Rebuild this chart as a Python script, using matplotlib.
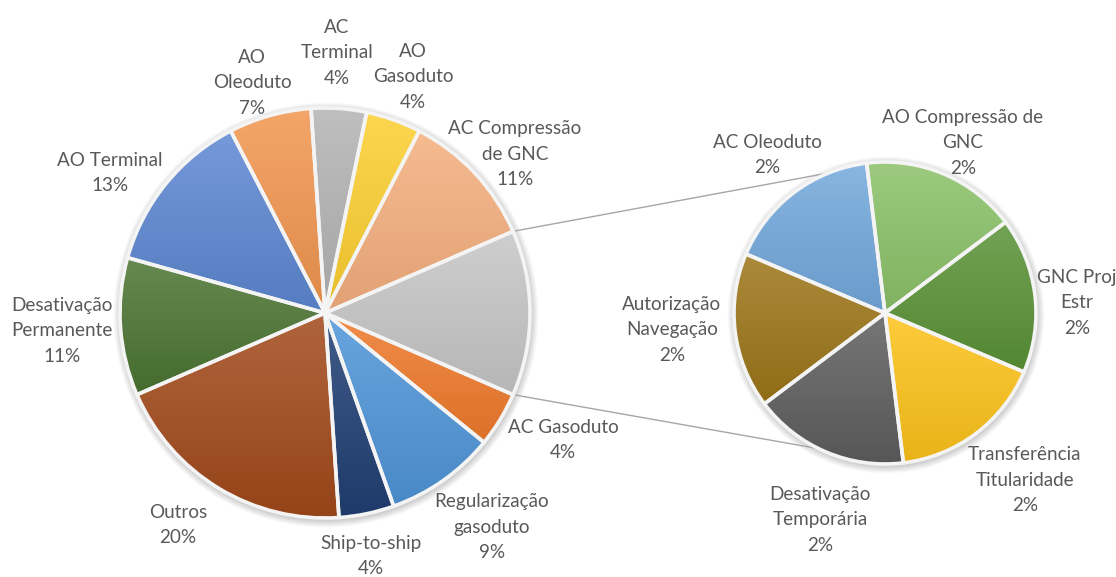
import matplotlib
matplotlib.use("Agg")
import matplotlib.pyplot as plt
import numpy as np
from matplotlib.colors import to_rgb
from matplotlib.patches import Circle

# ---------------- data ----------------
main_categories = ["AC Compressão de GNC", "AO Gasoduto", "AC Terminal", "AO Oleoduto",
                   "AO Terminal", "Desativação Permanente", "Outros", "Ship-to-ship",
                   "Regularização gasoduto", "AC Gasoduto"]
main_values = [5, 2, 2, 3, 6, 5, 9, 2, 4, 2]

sec_categories = ["AC Oleoduto", "AO Compressão de GNC", "GNC Proj Estr",
                  "Transferência Titularidade", "Desativação Temporária", "Autorização Navegação"]
sec_values = [1, 1, 1, 1, 1, 1]

# ---------------- style / layout ----------------
main_label_text = ["AC Compressão\nde GNC", "AO\nGasoduto", "AC\nTerminal", "AO\nOleoduto",
                   "AO Terminal", "Desativação\nPermanente", "Outros", "Ship-to-ship",
                   "Regularização\ngasoduto", "AC Gasoduto"]
sec_label_text = ["AC Oleoduto", "AO Compressão de\nGNC", "GNC Proj\nEstr",
                  "Transferência\nTitularidade", "Desativação\nTemporária", "Autorização\nNavegação"]

main_colors = ["#F5AF7E", "#FCCF30", "#B3B3B3", "#F1964F", "#5D87D2", "#4B7432",
               "#A2491A", "#203F73", "#4F95D8", "#EF7A2C"]
group_color = "#C6C6C6"
sec_colors = ["#73A8DC", "#8AC168", "#5A9236", "#FDC31A", "#5E5E5E", "#9C7518"]

W, H = 1116, 577
main_center = (325, H - 313)
main_r = 205
sec_center = (885, H - 313)
sec_r = 151

# label centres (image pixel coordinates, y down)
main_label_pos = [(515, 154), (413, 77), (337, 53), (252, 83), (110, 173), (62, 331),
                  (178, 525), (371, 556), (492, 527), (563, 440)]
sec_label_pos = [(767, 155), (963, 143), (1077, 303), (1025, 480), (820, 520), (672, 330)]

TEXT_COLOR = "#595959"
FONT = ["Lato", "DejaVu Sans"]
FS = 13.6
LS = 1.58

total = sum(main_values) + sum(sec_values)

fig = plt.figure(figsize=(W / 100, H / 100), dpi=100)
ax = fig.add_axes([0, 0, 1, 1])


def add_shadow(center, r):
    for i in range(8):
        ax.add_patch(Circle((center[0] + 1, center[1] - 2), r + 1 + i * 0.9,
                            facecolor="black", alpha=0.025, edgecolor="none", zorder=0))


def gradient_fill(wedges, colors):
    for w, c in zip(wedges, colors):
        base = np.array(to_rgb(c))
        light = base + (1 - base) * 0.15
        dark = base * 0.92
        t = np.linspace(0, 1, 64)[:, None]
        grad = (light[None, :] * (1 - t) + dark[None, :] * t)[:, None, :]
        ext = w.get_path().get_extents()
        im = ax.imshow(grad, extent=[ext.x0, ext.x1, ext.y0, ext.y1], origin="upper",
                       aspect="auto", interpolation="bilinear", zorder=2)
        im.set_clip_path(w)


add_shadow(main_center, main_r)
add_shadow(sec_center, sec_r)

group_value = sum(sec_values)
all_main = [group_value] + main_values
group_angle = 360.0 * group_value / sum(all_main)
wedges_main, _ = ax.pie(all_main, colors=[group_color] + main_colors,
                        startangle=-group_angle / 2, counterclock=True,
                        center=main_center, radius=main_r,
                        wedgeprops=dict(edgecolor="none", linewidth=0))
for w in wedges_main:
    w.set_zorder(1)
gradient_fill(wedges_main, [group_color] + main_colors)
wedges_main_edges, _ = ax.pie(all_main, colors=["none"] * len(all_main),
                              startangle=-group_angle / 2, counterclock=True,
                              center=main_center, radius=main_r,
                              wedgeprops=dict(edgecolor="#F4F4F4", linewidth=2.6, fill=False))
for w in wedges_main_edges:
    w.set_zorder(3)

wedges_sec, _ = ax.pie(sec_values, colors=sec_colors, startangle=157, counterclock=False,
                       center=sec_center, radius=sec_r,
                       wedgeprops=dict(edgecolor="none", linewidth=0))
for w in wedges_sec:
    w.set_zorder(1)
gradient_fill(wedges_sec, sec_colors)
wedges_sec_edges, _ = ax.pie(sec_values, colors=["none"] * len(sec_values), startangle=157,
                             counterclock=False, center=sec_center, radius=sec_r,
                             wedgeprops=dict(edgecolor="#F4F4F4", linewidth=2.6, fill=False))
for w in wedges_sec_edges:
    w.set_zorder(3)

# connector lines from grouped slice edges to the secondary pie
g_theta1 = np.deg2rad(wedges_main[0].theta1)
g_theta2 = np.deg2rad(wedges_main[0].theta2)
for gth, sth in [(g_theta2, np.deg2rad(112)), (g_theta1, np.deg2rad(244))]:
    x0 = main_center[0] + main_r * np.cos(gth)
    y0 = main_center[1] + main_r * np.sin(gth)
    x1 = sec_center[0] + sec_r * np.cos(sth)
    y1 = sec_center[1] + sec_r * np.sin(sth)
    ax.plot([x0, x1], [y0, y1], color="#A6A6A6", linewidth=1.0, zorder=0.5)


def pct(v):
    return f"{round(100 * v / total)}%"


for txt, v, (x, y) in zip(main_label_text, main_values, main_label_pos):
    ax.text(x, H - y, f"{txt}\n{pct(v)}", ha="center", va="center", fontsize=FS,
            color=TEXT_COLOR, family=FONT, linespacing=LS, zorder=5)
for txt, v, (x, y) in zip(sec_label_text, sec_values, sec_label_pos):
    ax.text(x, H - y, f"{txt}\n{pct(v)}", ha="center", va="center", fontsize=FS,
            color=TEXT_COLOR, family=FONT, linespacing=LS, zorder=5)

ax.set_xlim(0, W)
ax.set_ylim(0, H)
ax.set_aspect("equal")
ax.axis("off")
fig.savefig("out.png", dpi=100, facecolor="white")
